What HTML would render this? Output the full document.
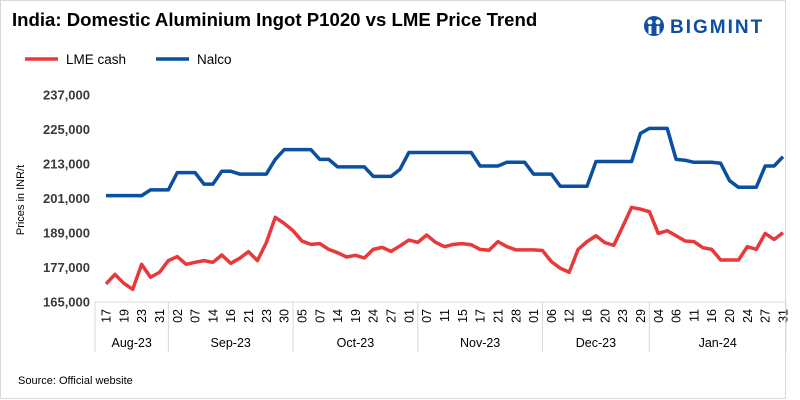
<!DOCTYPE html>
<html><head><meta charset="utf-8"><style>
body{margin:0;background:#fff;}
svg{display:block;font-family:"Liberation Sans",sans-serif;}
</style></head><body>
<svg id="chart" width="800" height="400" viewBox="0 0 800 400">
<rect x="0.5" y="0.5" width="785" height="398" fill="#fff" stroke="#d9d9d9"/>
<text x="12" y="26" font-size="18.6" font-weight="bold" fill="#000">India: Domestic Aluminium Ingot P1020 vs LME Price Trend</text>
<g>
<circle cx="654" cy="26" r="10" fill="#0d4fa3"/>
<circle cx="650" cy="22" r="2.5" fill="#fff"/><circle cx="658" cy="22" r="2.5" fill="#fff"/>
<rect x="648.5" y="26" width="3" height="8" fill="#fff"/><rect x="656.5" y="26" width="3" height="8" fill="#fff"/>
<text x="670" y="33" font-size="19" font-weight="bold" fill="#0d4fa3" letter-spacing="2">BIGMINT</text>
</g>
<g>
<line x1="25" y1="59" x2="58" y2="59" stroke="#e8393a" stroke-width="3.5"/>
<text x="66" y="64" font-size="13.5" fill="#000">LME cash</text>
<line x1="156" y1="59" x2="189" y2="59" stroke="#0a4fa0" stroke-width="3.5"/>
<text x="197" y="64" font-size="13.5" fill="#000">Nalco</text>
</g>
<text transform="translate(24,200) rotate(-90)" text-anchor="middle" font-size="11" fill="#000">Prices in INR/t</text>
<g id="yaxis"></g><g id="xaxis"></g><g id="series"></g>
<text x="18" y="384" font-size="11" fill="#000">Source: Official website</text>
</svg>
<script>
const yTicks=[165000,177000,189000,201000,213000,225000,237000];
const dayLabels=["17","19","23","31","02","07","14","16","21","23","30","05","07","14","19","24","27","01","07","11","15","17","21","28","01","06","12","16","20","23","29","04","06","11","16","20","24","27","31"];
const months=["Aug-23","Sep-23","Oct-23","Nov-23","Dec-23","Jan-24"];
const monthCounts=[4,7,7,7,6,8];
const lmeCash=[171300,174600,171500,169400,178100,173600,175300,179400,180800,178100,178800,179400,178800,181350,178450,180200,182500,179400,185650,194450,192350,189800,186200,185050,185300,183300,182150,180650,181250,180300,183300,184000,182600,184500,186550,185750,188300,185750,184250,185050,185300,184900,183300,183000,186000,184250,183150,183150,183150,182900,179050,176750,175350,183300,186000,188050,185650,184700,191200,197900,197300,196400,188850,189800,188050,186200,186000,183900,183300,179600,179600,179600,184250,183300,188850,186750,189100];
const nalco=[202000,202000,202000,202000,202000,204000,204000,204000,210000,210000,210000,206000,206000,210500,210500,209500,209500,209500,209500,214600,218000,218000,218000,218000,214600,214600,212000,212000,212000,212000,208700,208700,208700,211150,217000,217000,217000,217000,217000,217000,217000,217000,212300,212300,212300,213600,213600,213600,209500,209500,209500,205250,205250,205250,205250,213850,213850,213850,213850,213850,223650,225400,225400,225400,214600,214300,213600,213600,213600,213250,207200,204900,204900,204900,212300,212300,215550];
const NS="http://www.w3.org/2000/svg";
const x0=106,x1=783,yTop=95,yBot=302,vMin=165000,vMax=237000;
const N=lmeCash.length;
function xPos(i){return x0+(x1-x0)*i/(N-1);}
function yPos(v){return yBot-(v-vMin)/(vMax-vMin)*(yBot-yTop);}
function lx(i){return x0+(x1-x0)*i/(dayLabels.length-1);}
function mk(t,a,p){const e=document.createElementNS(NS,t);for(const k in a)e.setAttribute(k,a[k]);p.appendChild(e);return e;}
const ya=document.getElementById('yaxis');
yTicks.forEach(v=>{const t=mk('text',{x:90,y:yPos(v)+4.5,'text-anchor':'end','font-size':'13','font-weight':'bold',fill:'#3a3a3a'},ya);


t.textContent=v.toLocaleString('en-US');});
const xa=document.getElementById('xaxis');
const base=mk('line',{x1:95,y1:302,x2:786,y2:302,stroke:'#d9d9d9','stroke-width':1},xa);


dayLabels.forEach((d,i)=>{const t=mk('text',{transform:`translate(${lx(i)+4.5},${309}) rotate(-90)`,'text-anchor':'end','font-size':'12.5',fill:'#000'},xa);


t.textContent=d;});
let start=0;const sep=i=>i<=0?95:(i>=dayLabels.length?786:(lx(i-1)+lx(i))/2);
months.forEach((m,k)=>{const a=sep(start),b=sep(start+monthCounts[k]);
const l=mk('line',{x1:a,y1:302,x2:a,y2:352,stroke:'#d9d9d9'},xa);


const t=mk('text',{x:(a+b)/2,y:347,'text-anchor':'middle','font-size':'12.5',fill:'#000'},xa);


t.textContent=m;start+=monthCounts[k];});
const el=mk('line',{x1:786,y1:302,x2:786,y2:352,stroke:'#d9d9d9'},xa);


const sg=document.getElementById('series');
function line(arr,color,name){const p=mk('polyline',{points:arr.map((v,i)=>xPos(i)+','+yPos(v)).join(' '),fill:'none',stroke:color,'stroke-width':3.5,'stroke-linejoin':'round'},sg);

}
line(nalco,'#0a4fa0','nalco-line');
line(lmeCash,'#e8393a','lme-cash-line');
</script>
</body></html>
